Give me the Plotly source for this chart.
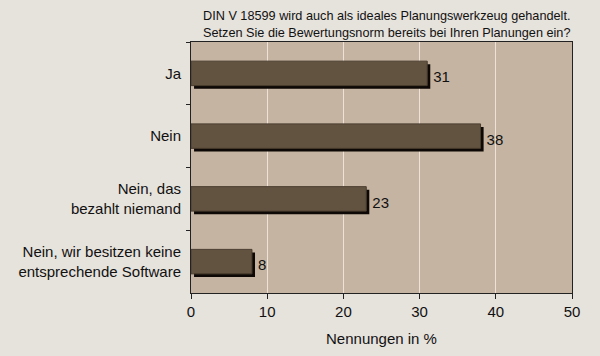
import plotly.graph_objects as go

categories = ["Ja", "Nein", "Nein, das<br>bezahlt niemand", "Nein, wir besitzen keine<br>entsprechende Software"]
values = [31, 38, 23, 8]
x_ticks = [0, 10, 20, 30, 40, 50]
title_lines = ["DIN V 18599 wird auch als ideales Planungswerkzeug gehandelt.",
               "Setzen Sie die Bewertungsnorm bereits bei Ihren Planungen ein?"]
x_title = "Nennungen in %"

BAR_W = 0.39
SHADOW_DY = 0.05
SHADOW_DX = 0.4
FONT = "Liberation Sans, Arial, sans-serif"

fig = go.Figure()
fig.add_trace(go.Bar(
    y=categories, x=values, orientation="h", base=SHADOW_DX,
    width=BAR_W, offset=-BAR_W / 2 + SHADOW_DY,
    marker=dict(color="#0d0805", line=dict(width=0)),
    text=[str(v) for v in values], textposition="outside",
    textfont=dict(size=15, color="#111111", family=FONT),
    cliponaxis=False, hoverinfo="skip", showlegend=False,
))
fig.add_trace(go.Bar(
    y=categories, x=values, orientation="h",
    width=BAR_W, offset=-BAR_W / 2,
    marker=dict(color="#625340", line=dict(width=1, color="#4a3d2f")),
    showlegend=False,
))

fig.update_layout(
    width=600, height=356,
    barmode="overlay",
    paper_bgcolor="#e6e2dc",
    plot_bgcolor="#c5b4a1",
    margin=dict(l=191, r=28, t=42, b=63),
    font=dict(family=FONT, size=15, color="#111111"),
    annotations=[dict(
        text="<br>".join(title_lines), xref="paper", yref="paper",
        x=1, y=1, xanchor="right", yanchor="bottom", yshift=0,
        align="right", showarrow=False,
        font=dict(size=12.7, color="#111111", family=FONT),
    )],
)
fig.update_xaxes(
    range=[0, 50], tickvals=x_ticks, ticks="outside", ticklen=5,
    tickcolor="#222222", showline=True, linecolor="#222222", linewidth=1,
    mirror=True, showgrid=True, gridcolor="#ebe3d8", gridwidth=1,
    zeroline=False, tickfont=dict(size=15),
    title=dict(text=x_title, font=dict(size=15), standoff=14),
)
fig.update_yaxes(
    autorange="reversed", ticks="outside", ticklen=4, tickson="boundaries",
    tickcolor="#222222", showline=True, linecolor="#222222", linewidth=1,
    mirror=True, showgrid=False, tickfont=dict(size=15), ticklabelstandoff=6,
)

fig.write_html("out.html", config={"displayModeBar": False},
               post_script="document.body.style.margin='0';document.body.style.background='#e6e2dc';")
